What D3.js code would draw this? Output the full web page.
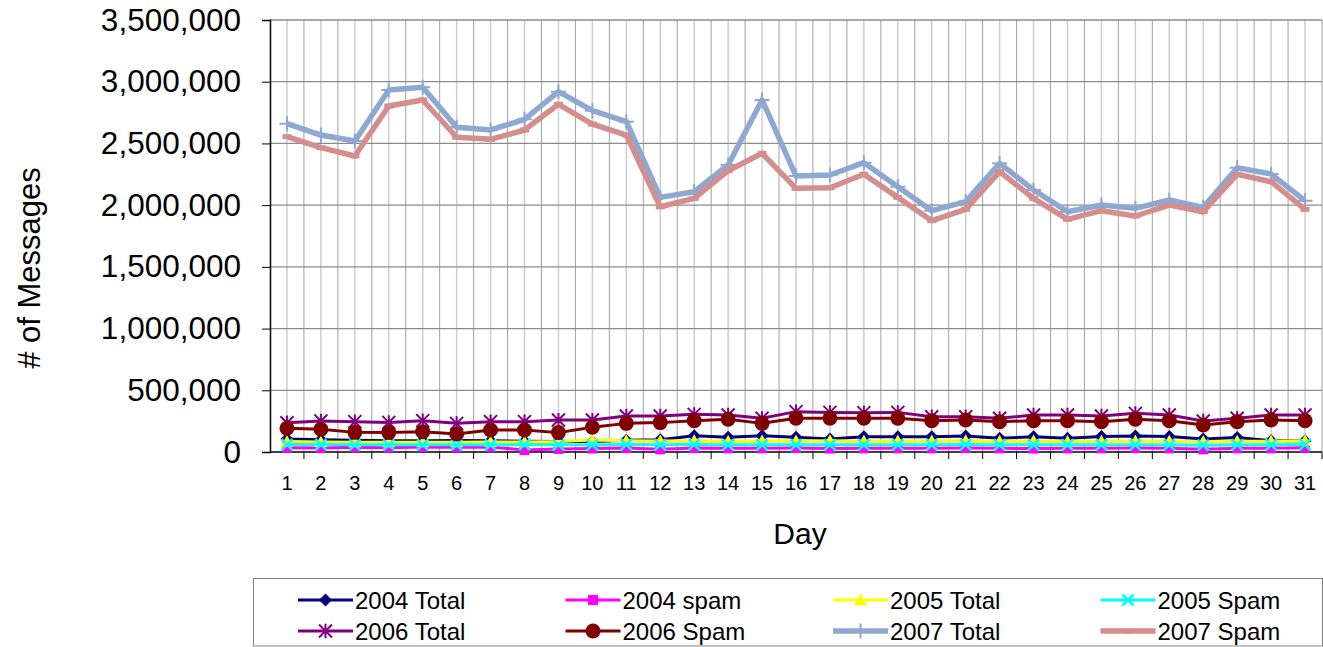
<!DOCTYPE html>
<html>
<head>
<meta charset="utf-8">
<script src="https://cdn.jsdelivr.net/npm/d3@7"></script>
<style>
html,body{margin:0;padding:0;background:#fff;}
svg{display:block;font-family:"Liberation Sans",Arial,sans-serif;}
</style>
</head>
<body>
<svg id="chart" width="1323" height="647"></svg>
<script>
const days = [1,2,3,4,5,6,7,8,9,10,11,12,13,14,15,16,17,18,19,20,21,22,23,24,25,26,27,28,29,30,31];
const yTicks = [0,500000,1000000,1500000,2000000,2500000,3000000,3500000];

const total2004 = [105000,100000,95000,92000,92000,93000,92000,88000,85000,85000,95000,100000,132000,119000,132000,119000,105000,124000,124000,124000,130000,111000,124000,112000,126000,130000,126000,105000,118000,92000,92000];
const spam2004  = [35000,33000,38000,35000,40000,38000,40000,16000,25000,28000,32000,22000,32000,30000,30000,32000,28000,30000,30000,30000,32000,30000,28000,30000,30000,32000,30000,22000,30000,30000,35000];
const total2005 = [85000,82000,80000,80000,80000,80000,82000,82000,85000,97000,92000,90000,92000,88000,90000,90000,92000,88000,90000,90000,92000,88000,90000,85000,88000,90000,88000,85000,88000,88000,92000];
const spam2005  = [60000,60000,58000,58000,58000,58000,58000,60000,58000,58000,60000,58000,60000,58000,58000,58000,58000,58000,58000,58000,60000,58000,58000,58000,58000,58000,58000,55000,58000,58000,60000];
const total2006 = [237000,251000,246000,240000,254000,232000,246000,246000,259000,259000,292000,292000,305000,300000,273000,327000,321000,319000,321000,286000,286000,273000,300000,300000,292000,313000,300000,251000,273000,300000,300000];
const spam2006  = [192000,184000,159000,157000,165000,146000,178000,178000,157000,200000,232000,238000,254000,265000,232000,273000,273000,273000,273000,254000,259000,246000,254000,254000,246000,265000,254000,219000,246000,259000,254000];
const total2007 = [2660000,2568000,2520000,2933000,2955000,2631000,2609000,2695000,2919000,2765000,2676000,2063000,2109000,2325000,2852000,2236000,2244000,2344000,2150000,1955000,2028000,2339000,2123000,1947000,2001000,1974000,2042000,1982000,2303000,2252000,2036000];
const spam2007  = [2555000,2466000,2398000,2803000,2852000,2550000,2533000,2609000,2817000,2657000,2568000,1987000,2055000,2279000,2420000,2136000,2141000,2250000,2063000,1874000,1966000,2271000,2055000,1885000,1955000,1912000,2001000,1947000,2250000,2190000,1966000];

const seriesNames = ["2004 Total","2004 spam","2005 Total","2005 Spam","2006 Total","2006 Spam","2007 Total","2007 Spam"];
const seriesValues = [total2004,spam2004,total2005,spam2005,total2006,spam2006,total2007,spam2007];

const styles = [
  {color:"#000080", width:3, marker:"diamond"},
  {color:"#FF00FF", width:3, marker:"square"},
  {color:"#FFFF00", width:3, marker:"triangle"},
  {color:"#00FFFF", width:3, marker:"x"},
  {color:"#800080", width:3, marker:"asterisk"},
  {color:"#800000", width:3, marker:"circle"},
  {color:"#8EA8D2", width:5.5, marker:"plus"},
  {color:"#D38E8D", width:5.5, marker:"dash"}
];

const svg = d3.select("#chart");
const L = 270, R = 1322, T = 20, B = 452;

const x = d3.scaleBand().domain(days).range([L, R]).paddingInner(0).paddingOuter(0);
const bw = x.bandwidth();
const cx = d => x(d) + bw/2;
const y = d3.scaleLinear().domain([0, 3500000]).range([B, T]);

// minor vertical gridlines (category centres)
svg.append("g").selectAll("line").data(days).join("line")
  .attr("x1", d => cx(d)).attr("x2", d => cx(d))
  .attr("y1", T).attr("y2", B)
  .attr("stroke", "#cfcfcf").attr("stroke-width", 1.5);

// major vertical gridlines (category boundaries)
svg.append("g").selectAll("line").data(days.slice(1).concat(["end"])).join("line")
  .attr("x1", d => d === "end" ? R : x(d)).attr("x2", d => d === "end" ? R : x(d))
  .attr("y1", T).attr("y2", B)
  .attr("stroke", "#a0a0a0").attr("stroke-width", 1);

// horizontal gridlines
svg.append("g").selectAll("line").data(yTicks.slice(1)).join("line")
  .attr("x1", L).attr("x2", R)
  .attr("y1", d => y(d)).attr("y2", d => y(d))
  .attr("stroke", "#8c8c8c").attr("stroke-width", 1.3);

// Y axis
const yAxis = d3.axisLeft(y).tickValues(yTicks).tickSize(8).tickPadding(21)
  .tickFormat(d3.format(","));
const gy = svg.append("g").attr("transform", `translate(${L},0)`).call(yAxis);
gy.select(".domain").attr("stroke", "#000").attr("stroke-width", 1.5);
gy.selectAll(".tick line").attr("stroke", "#000");
gy.selectAll("text").attr("font-size", 31.5).attr("fill", "#000")
  .attr("font-family", "Liberation Sans, Arial, sans-serif");

// X axis: ticks at boundaries, labels at centres
const gx = svg.append("g").attr("transform", `translate(0,${B})`);
gx.append("line").attr("x1", L).attr("x2", R).attr("y1", 0).attr("y2", 0)
  .attr("stroke", "#000").attr("stroke-width", 1.5);
gx.selectAll("line.tk").data(days.slice(1).concat(["end"])).join("line").attr("class","tk")
  .attr("x1", d => d === "end" ? R : x(d)).attr("x2", d => d === "end" ? R : x(d))
  .attr("y1", 0).attr("y2", 7).attr("stroke", "#000").attr("stroke-width", 1);
gx.selectAll("text").data(days).join("text")
  .attr("x", d => cx(d)).attr("y", 38)
  .attr("text-anchor", "middle").attr("font-size", 20).attr("fill", "#000")
  .text(d => d);

// axis titles
svg.append("text").attr("x", 800).attr("y", 544).attr("text-anchor", "middle")
  .attr("font-size", 30).attr("fill", "#000").text("Day");
svg.append("text").attr("transform", "translate(40,268) rotate(-90)")
  .attr("text-anchor", "middle").attr("font-size", 31).attr("fill", "#000")
  .text("# of Messages");

// marker drawing
function drawMarker(g, type, color, px, py) {
  if (type === "diamond") {
    const r = 6.5;
    g.append("path").attr("d", `M${px},${py-r}L${px+r},${py}L${px},${py+r}L${px-r},${py}Z`).attr("fill", color);
  } else if (type === "square") {
    const r = 5;
    g.append("rect").attr("x", px-r).attr("y", py-r).attr("width", 2*r).attr("height", 2*r).attr("fill", color);
  } else if (type === "triangle") {
    const r = 6.5;
    g.append("path").attr("d", `M${px},${py-r}L${px+r},${py+r*0.8}L${px-r},${py+r*0.8}Z`).attr("fill", color);
  } else if (type === "x") {
    const r = 5.5;
    g.append("path").attr("d", `M${px-r},${py-r}L${px+r},${py+r}M${px-r},${py+r}L${px+r},${py-r}`)
      .attr("stroke", color).attr("stroke-width", 2.5);
  } else if (type === "asterisk") {
    const r = 6.5;
    g.append("path").attr("d", `M${px-r},${py-r}L${px+r},${py+r}M${px-r},${py+r}L${px+r},${py-r}M${px},${py-r*1.1}L${px},${py+r*1.1}`)
      .attr("stroke", color).attr("stroke-width", 2);
  } else if (type === "circle") {
    g.append("circle").attr("cx", px).attr("cy", py).attr("r", 7.5).attr("fill", color);
  } else if (type === "plus") {
    const r = 7.5;
    g.append("path").attr("d", `M${px-r},${py}L${px+r},${py}M${px},${py-r}L${px},${py+r}`)
      .attr("stroke", color).attr("stroke-width", 2);
  } else if (type === "dash") {
    g.append("rect").attr("x", px-4.5).attr("y", py-2.5).attr("width", 9).attr("height", 5).attr("fill", color);
  }
}

const line = d3.line().x((v, i) => cx(days[i])).y(v => y(v));

seriesValues.forEach((vals, si) => {
  const st = styles[si];
  const g = svg.append("g");
  g.append("path").datum(vals).attr("d", line)
    .attr("fill", "none").attr("stroke", st.color).attr("stroke-width", st.width)
    .attr("stroke-linejoin", "round");
  vals.forEach((v, i) => drawMarker(g, st.marker, st.color, cx(days[i]), y(v)));
});

// legend
const lg = svg.append("g");
lg.append("rect").attr("x", 253.5).attr("y", 578.5).attr("width", 1069).attr("height", 67.5)
  .attr("fill", "#fff").attr("stroke", "#808080").attr("stroke-width", 1);
seriesNames.forEach((name, i) => {
  const col = i % 4, row = Math.floor(i / 4);
  const lx = 298 + col * 267.5;
  const ly = 600 + row * 31;
  const st = styles[i];
  lg.append("line").attr("x1", lx).attr("x2", lx + 55).attr("y1", ly).attr("y2", ly)
    .attr("stroke", st.color).attr("stroke-width", st.width);
  drawMarker(lg, st.marker, st.color, lx + 27.5, ly);
  lg.append("text").attr("x", lx + 57).attr("y", ly + 8.5).attr("font-size", 24)
    .attr("fill", "#000").text(name);
});
</script>
</body>
</html>
